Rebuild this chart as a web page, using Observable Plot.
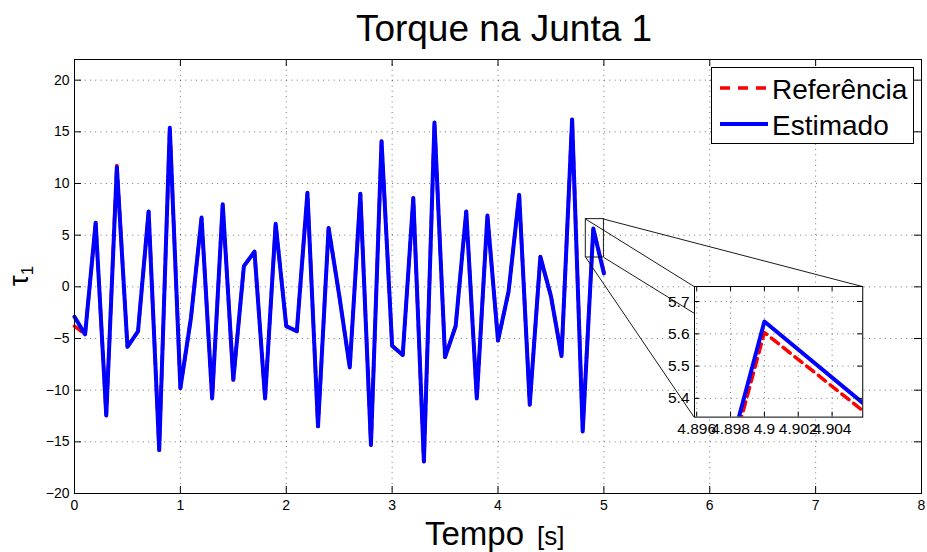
<!DOCTYPE html>
<html>
<head>
<meta charset="utf-8">
<script src="https://cdn.jsdelivr.net/npm/d3@7"></script>
<script src="https://cdn.jsdelivr.net/npm/@observablehq/plot@0.6"></script>
<style>
  html, body { margin: 0; padding: 0; background: #fff; }
  #wrap { position: relative; width: 927px; height: 552px; overflow: hidden; font-family: "Liberation Sans", Arial, Helvetica, sans-serif; color: #000; }
  #wrap svg { position: absolute; }
  .lbl { position: absolute; white-space: nowrap; line-height: 1; }
  #title { left: 504px; top: 10px; font-size: 37px; transform: translateX(-50%); }
  #xlab1 { left: 425px; top: 517px; font-size: 33px; }
  #xlab2 { left: 537px; top: 523px; font-size: 26px; }
  #ylab { left: 20px; top: 276px; font-size: 28px; transform: translate(-50%, -50%) rotate(-90deg); }
  #ylab sub { font-size: 17px; vertical-align: -5px; }
  #legend { position: absolute; left: 711px; top: 67px; width: 203px; height: 77px; box-sizing: border-box; border: 1px solid #000; background: #fff; }
  #legend .row { position: absolute; left: 0; height: 36px; }
  #legend .txt { position: absolute; left: 60px; font-size: 28px; line-height: 1; white-space: nowrap; }
</style>
</head>
<body>
<div id="wrap">
  <div class="lbl" id="title">Torque na Junta 1</div>
  <div class="lbl" id="xlab1">Tempo</div>
  <div class="lbl" id="xlab2">[s]</div>
  <div class="lbl" id="ylab">τ<sub>1</sub></div>
</div>
<script>
// ---- data ----
const time = [0.0, 0.1, 0.2, 0.3, 0.4, 0.5, 0.6, 0.7, 0.8, 0.9,
              1.0, 1.1, 1.2, 1.3, 1.4, 1.5, 1.6, 1.7, 1.8, 1.9,
              2.0, 2.1, 2.2, 2.3, 2.4, 2.5, 2.6, 2.7, 2.8, 2.9,
              3.0, 3.1, 3.2, 3.3, 3.4, 3.5, 3.6, 3.7, 3.8, 3.9,
              4.0, 4.1, 4.2, 4.3, 4.4, 4.5, 4.6, 4.7, 4.8, 4.9, 5.0];
const referencia = [-3.8, -4.6, 6.2, -12.45, 11.8, -5.8, -4.3, 7.3, -15.8, 15.4,
                    -9.8, -3.0, 6.7, -10.8, 8.0, -9.0, 2.0, 3.4, -10.8, 6.1,
                    -3.8, -4.3, 9.1, -13.5, 5.7, -0.8, -7.8, 9.0, -15.3, 14.1,
                    -5.7, -6.6, 8.6, -16.9, 15.9, -6.8, -3.8, 7.3, -10.8, 6.9,
                    -5.2, -0.45, 8.9, -11.4, 2.9, -0.9, -6.7, 16.2, -13.8, 5.604, 1.44];
const estimado   = [-2.9, -4.6, 6.2, -12.45, 11.6, -5.8, -4.3, 7.3, -15.8, 15.4,
                    -9.8, -3.0, 6.7, -10.8, 8.0, -9.0, 2.0, 3.4, -10.8, 6.1,
                    -3.8, -4.3, 9.1, -13.5, 5.7, -0.8, -7.8, 9.0, -15.3, 14.1,
                    -5.7, -6.6, 8.6, -16.9, 15.9, -6.8, -3.8, 7.3, -10.8, 6.9,
                    -5.2, -0.45, 8.9, -11.4, 2.9, -0.9, -6.7, 16.2, -14.0, 5.638, 1.30];
const xTicks = [0, 1, 2, 3, 4, 5, 6, 7, 8];
const yTicks = [-20, -15, -10, -5, 0, 5, 10, 15, 20];
const insetXTicks = [4.896, 4.898, 4.9, 4.902, 4.904];
const insetYTicks = [5.4, 5.5, 5.6, 5.7];
const seriesNames = ["Referência", "Estimado"];

// ---- domains ----
const xDomain = [0, 8];
const yDomain = [-20, 22];
const insetXDomain = [4.89587, 4.90581];
const insetYDomain = [5.342, 5.7466];
// zoom rectangle (main data coords) and inset placement (main data coords)
const zoomX = [4.829, 5.0];
const zoomY = [2.84, 6.55];
const insetAtX = [5.852, 7.441];
const insetAtY = [-12.61, 0.03];

// ---- layout ----
const W = 927, H = 552;
const mL = 74, mR = 6, mT = 59, mB = 59;
const pxX = (W - mL - mR) / (xDomain[1] - xDomain[0]);
const pxY = (H - mT - mB) / (yDomain[1] - yDomain[0]);
const tk = 7;
const font = "Liberation Sans, Arial, Helvetica, sans-serif";
const RED = "#ff0000", BLUE = "#0000ff";
const dash = "9,6";

const rows = time.map((t, i) => ({t, ref: referencia[i], est: estimado[i]}));

const corners = [
  {x1: zoomX[0], y1: zoomY[1], x2: insetAtX[0], y2: insetAtY[1]},
  {x1: zoomX[1], y1: zoomY[1], x2: insetAtX[1], y2: insetAtY[1]},
  {x1: zoomX[0], y1: zoomY[0], x2: insetAtX[0], y2: insetAtY[0]},
  {x1: zoomX[1], y1: zoomY[0], x2: insetAtX[1], y2: insetAtY[0]}
];

const gridStyle = {stroke: "#000", strokeOpacity: 0.55, strokeDasharray: "1,4.3", strokeWidth: 1};

const main = Plot.plot({
  width: W, height: H,
  marginLeft: mL, marginRight: mR, marginTop: mT, marginBottom: mB,
  x: {domain: xDomain},
  y: {domain: yDomain},
  style: {background: "transparent", fontFamily: font, fontSize: "14px", color: "#000", overflow: "visible"},
  marks: [
    Plot.gridX(xTicks, gridStyle),
    Plot.gridY(yTicks, gridStyle),
    Plot.axisX(xTicks, {tickSize: 0, tickPadding: 7, fontSize: 14, label: null}),
    Plot.axisY(yTicks, {tickSize: 0, tickPadding: 5, fontSize: 14, label: null}),
    Plot.ruleX(xTicks, {y1: yDomain[0], y2: yDomain[0] + tk / pxY, stroke: "#000"}),
    Plot.ruleX(xTicks, {y1: yDomain[1], y2: yDomain[1] - tk / pxY, stroke: "#000"}),
    Plot.ruleY(yTicks, {x1: xDomain[0], x2: xDomain[0] + tk / pxX, stroke: "#000"}),
    Plot.ruleY(yTicks, {x1: xDomain[1], x2: xDomain[1] - tk / pxX, stroke: "#000"}),
    Plot.line(rows, {x: "t", y: "ref", stroke: RED, strokeWidth: 3.5, strokeDasharray: dash}),
    Plot.line(rows, {x: "t", y: "est", stroke: BLUE, strokeWidth: 4}),
    Plot.link(corners, {x1: "x1", y1: "y1", x2: "x2", y2: "y2", stroke: "#000", strokeWidth: 0.9}),
    Plot.rect([{}], {x1: zoomX[0], x2: zoomX[1], y1: zoomY[0], y2: zoomY[1], fill: "none", stroke: "#000", strokeWidth: 0.9}),
    Plot.frame({stroke: "#000", strokeWidth: 1})
  ]
});
main.style.left = "0px";
main.style.top = "0px";
const wrap = document.getElementById("wrap");
wrap.insertBefore(main, wrap.firstChild);

// ---- inset ----
const sx = main.scale("x"), sy = main.scale("y");
const iLeft = sx.apply(insetAtX[0]), iRight = sx.apply(insetAtX[1]);
const iTop = sy.apply(insetAtY[1]), iBottom = sy.apply(insetAtY[0]);
const iL = 50, iR = 4, iT = 4, iB = 30;
const iW = iRight - iLeft, iH = iBottom - iTop;
const ipxX = iW / (insetXDomain[1] - insetXDomain[0]);
const ipxY = iH / (insetYDomain[1] - insetYDomain[0]);
const itk = 5;
const inset = Plot.plot({
  width: iW + iL + iR, height: iH + iT + iB,
  marginLeft: iL, marginRight: iR, marginTop: iT, marginBottom: iB,
  x: {domain: insetXDomain},
  y: {domain: insetYDomain},
  style: {background: "transparent", fontFamily: font, fontSize: "15px", color: "#000", overflow: "visible"},
  marks: [
    Plot.frame({fill: "#fff", stroke: "none"}),
    Plot.gridX(insetXTicks, gridStyle),
    Plot.gridY(insetYTicks, gridStyle),
    Plot.line(rows, {x: "t", y: "ref", stroke: RED, strokeWidth: 3.5, strokeDasharray: dash, clip: true}),
    Plot.line(rows, {x: "t", y: "est", stroke: BLUE, strokeWidth: 4, clip: true}),
    Plot.axisX(insetXTicks, {tickSize: 0, tickPadding: 6, fontSize: 15.5, label: null, tickFormat: d => String(+d.toFixed(3))}),
    Plot.axisY(insetYTicks, {tickSize: 0, tickPadding: 5, fontSize: 15.5, label: null, tickFormat: d => d.toFixed(1)}),
    Plot.ruleX(insetXTicks, {y1: insetYDomain[0], y2: insetYDomain[0] + itk / ipxY, stroke: "#000"}),
    Plot.ruleX(insetXTicks, {y1: insetYDomain[1], y2: insetYDomain[1] - itk / ipxY, stroke: "#000"}),
    Plot.ruleY(insetYTicks, {x1: insetXDomain[0], x2: insetXDomain[0] + itk / ipxX, stroke: "#000"}),
    Plot.ruleY(insetYTicks, {x1: insetXDomain[1], x2: insetXDomain[1] - itk / ipxX, stroke: "#000"}),
    Plot.frame({stroke: "#000", strokeWidth: 1})
  ]
});
inset.style.left = (iLeft - iL) + "px";
inset.style.top = (iTop - iT) + "px";
wrap.appendChild(inset);

// ---- legend ----
const legend = document.createElement("div");
legend.id = "legend";
const legendStyles = [
  {stroke: RED, dash: "10,8", width: 3.5},
  {stroke: BLUE, dash: null, width: 4}
];
seriesNames.forEach((name, i) => {
  const row = document.createElement("div");
  row.className = "row";
  row.style.top = (2 + i * 36) + "px";
  row.style.width = "200px";
  const svgNS = "http://www.w3.org/2000/svg";
  const s = document.createElementNS(svgNS, "svg");
  s.setAttribute("width", "56");
  s.setAttribute("height", "36");
  s.style.position = "absolute";
  s.style.left = "0px";
  s.style.top = "0px";
  const ln = document.createElementNS(svgNS, "line");
  ln.setAttribute("x1", "8"); ln.setAttribute("x2", "56");
  ln.setAttribute("y1", "18"); ln.setAttribute("y2", "18");
  ln.setAttribute("stroke", legendStyles[i].stroke);
  ln.setAttribute("stroke-width", legendStyles[i].width);
  if (legendStyles[i].dash) ln.setAttribute("stroke-dasharray", legendStyles[i].dash);
  s.appendChild(ln);
  row.appendChild(s);
  const tx = document.createElement("div");
  tx.className = "txt";
  tx.style.top = "6px";
  tx.textContent = name;
  row.appendChild(tx);
  legend.appendChild(row);
});
wrap.appendChild(legend);
</script>
</body>
</html>
